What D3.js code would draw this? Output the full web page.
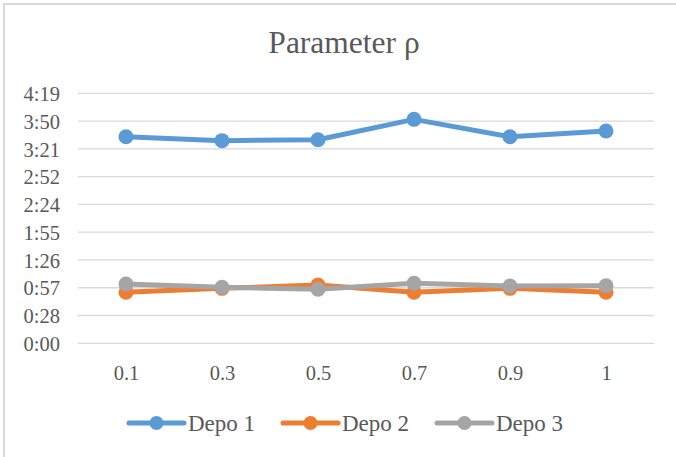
<!DOCTYPE html>
<html><head><meta charset="utf-8">
<script src="https://cdn.jsdelivr.net/npm/d3@7"></script>
<style>body{margin:0;background:#fff}svg{display:block}svg text{font-family:"Liberation Serif","Times New Roman",Times,serif}</style>
</head><body>
<svg id="c" width="676" height="457"></svg>
<script>
const categories = ["0.1","0.3","0.5","0.7","0.9","1"];
const seriesNames = ["Depo 1","Depo 2","Depo 3"];
const colors = ["#5b9bd5","#ed7d31","#a5a5a5"];
// values in minutes
const depo1 = [214.2, 210.1, 211.1, 232.2, 214.2, 220.1];
const depo2 = [52.9, 57.0, 60.4, 52.9, 57.0, 52.9];
const depo3 = [61.5, 58.0, 56.0, 62.2, 59.4, 59.7];
const tickValues = [0, 28.8, 57.6, 86.4, 115.2, 144, 172.8, 201.6, 230.4, 259.2];
const tickLabels = ["0:00","0:28","0:57","1:26","1:55","2:24","2:52","3:21","3:50","4:19"];
const title = "Parameter ρ";

(function(){
const series = [depo1, depo2, depo3];
const svg = d3.select("#c");
const txt = "#595959";

svg.append("rect").attr("x",4).attr("y",4).attr("width",676).attr("height",457)
  .attr("fill","#fff").attr("stroke","#d9d9d9").attr("stroke-width",2);

const pLeft = 78, pRight = 654, pTop = 93.3, pBottom = 343.3;
const x = d3.scalePoint().domain(categories).range([pLeft, pRight]).padding(0.5);
const y = d3.scaleLinear().domain([0, 259.2]).range([pBottom, pTop]);

svg.append("g").selectAll("line").data(tickValues).join("line")
  .attr("x1", pLeft).attr("x2", pRight)
  .attr("y1", d => y(d)).attr("y2", d => y(d))
  .attr("stroke", "#d9d9d9").attr("stroke-width", 1.3);

const yAxis = d3.axisLeft(y).tickValues(tickValues).tickSize(0).tickPadding(0)
  .tickFormat((d,i) => tickLabels[i]);
const gy = svg.append("g").attr("transform", `translate(${pLeft-18},0)`).call(yAxis);
gy.select(".domain").remove();
gy.attr("font-family", null);
gy.selectAll("text").attr("font-size", 20.5).attr("fill", txt).attr("dy","0.35em");

const xAxis = d3.axisBottom(x).tickSize(0).tickPadding(0);
const gx = svg.append("g").attr("transform", `translate(0,${pBottom+22})`).call(xAxis);
gx.select(".domain").remove();
gx.attr("font-family", null);
gx.selectAll("text").attr("font-size", 20.5).attr("fill", txt).attr("dy","0.71em");

svg.append("text").attr("x", 344).attr("y", 53).attr("text-anchor","middle")
  .attr("font-size", 31.5).attr("fill", txt).text(title);

const line = d3.line().x((d,i) => x(categories[i])).y(d => y(d));
series.forEach((s, k) => {
  const g = svg.append("g");
  g.append("path").attr("d", line(s)).attr("fill","none")
    .attr("stroke", colors[k]).attr("stroke-width", 5).attr("stroke-linejoin","round").attr("stroke-linecap","round");
  g.selectAll("circle").data(s).join("circle")
    .attr("cx", (d,i) => x(categories[i])).attr("cy", d => y(d)).attr("r", 7.5)
    .attr("fill", colors[k]);
});

const legX = [129, 283, 437];
const ly = 423;
seriesNames.forEach((n, k) => {
  const g = svg.append("g").attr("transform", `translate(${legX[k]},${ly})`);
  g.append("line").attr("x1",0).attr("x2",55).attr("y1",0).attr("y2",0)
    .attr("stroke", colors[k]).attr("stroke-width",5).attr("stroke-linecap","round");
  g.append("circle").attr("cx",27.5).attr("cy",0).attr("r",7).attr("fill",colors[k]);
  g.append("text").attr("x",59).attr("y",0).attr("dy","0.33em")
    .attr("font-size", 23).attr("fill", txt).text(n);
});
})();
</script>
</body></html>
